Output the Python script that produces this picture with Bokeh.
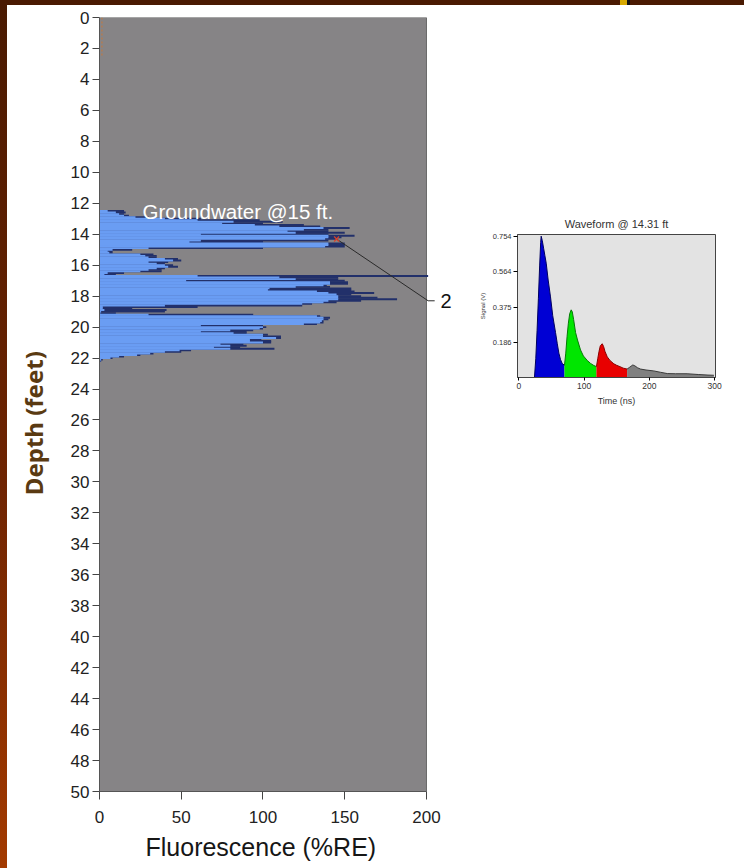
from bokeh.plotting import figure
from bokeh.layouts import row, column
from bokeh.models import Range1d, FixedTicker, Spacer, Div, Title
from bokeh.core.properties import value
from bokeh.embed import file_html
from bokeh.resources import INLINE

# ---------------- main log data (depth in ft, fluorescence in %RE) ----------------
depth_ft = [12.4, 12.5, 12.6, 12.7, 12.8, 12.9, 13.0, 13.1, 13.2, 13.3, 13.4, 13.5, 13.6, 13.7,
            13.8, 13.9, 14.0, 14.1, 14.2, 14.3, 14.4, 14.5, 14.6, 14.7, 14.8, 14.9, 15.0, 15.1,
            15.2, 15.3, 15.4, 15.5, 15.6, 15.7, 15.8, 15.9, 16.0, 16.1, 16.2, 16.3, 16.4, 16.5,
            16.6, 16.7, 16.8, 16.9, 17.0, 17.1, 17.2, 17.3, 17.4, 17.5, 17.6, 17.7, 17.8, 17.9,
            18.0, 18.1, 18.2, 18.3, 18.4, 18.5, 18.6, 18.7, 18.8, 18.9, 19.0, 19.1, 19.2, 19.3,
            19.4, 19.5, 19.6, 19.7, 19.8, 19.9, 20.0, 20.1, 20.2, 20.3, 20.4, 20.5, 20.6, 20.7,
            20.8, 20.9, 21.0, 21.1, 21.2, 21.3, 21.4, 21.5, 21.6, 21.7, 21.8, 21.9, 22.0, 22.1,
            22.2, 22.3]
fluor_outer = [0, 15, 16, 15, 18, 30, 62, 98, 112, 100, 125, 135, 153, 140,
               140, 150, 140, 156, 148, 145, 140, 100, 150, 150, 150, 100, 20, 8,
               8, 33, 35, 35, 48, 50, 42, 40, 45, 48, 40, 38, 38, 15,
               10, 201, 146, 146, 150, 152, 152, 139, 141, 154, 154, 156, 168, 154,
               160, 170, 182, 160, 145, 130, 124, 60, 20, 41, 40, 10, 94, 135,
               141, 140, 137, 137, 133, 100, 102, 100, 94, 90, 90, 103, 111, 111,
               99, 105, 105, 88, 90, 86, 107, 56, 50, 33, 25, 15, 8, 2,
               1, 0]
fluor_inner = [0, 5, 10, 12, 15, 22, 40, 60, 82, 75, 95, 110, 137, 125,
               115, 120, 62, 140, 140, 138, 62, 55, 140, 140, 138, 30, 8, 5,
               6, 25, 28, 30, 40, 45, 30, 35, 40, 42, 35, 30, 25, 5,
               3, 60, 110, 120, 53, 141, 141, 137, 120, 104, 103, 133, 140, 145,
               146, 146, 146, 140, 137, 124, 40, 2, 2, 3, 1, 0.5, 30, 133,
               137, 137, 136, 135, 125, 62, 100, 98, 80, 62, 82, 100, 100, 108,
               92, 92, 100, 74, 80, 70, 80, 49, 40, 31, 23, 12, 6.7, 1,
               0.5, 0]

x_ticks = [0, 50, 100, 150, 200]
y_ticks = list(range(0, 52, 2))
x_max, depth_max = 200, 50
x_title = "Fluorescence (%RE)"
y_title = "Depth (feet)"

marker_x, marker_depth = 145, 14.31
callout_x = [145, 201, 205]
callout_y = [14.31, 18.3, 18.3]
callout_text = "2"
gw_text = "Groundwater @15 ft."

# ---------------- waveform data (time ns, signal V) ----------------
base_t = [0, 24]
base_s = [0, 0]
blue_t = [24, 26, 28, 30, 32, 33.5, 34.3, 36, 38, 40, 42, 45, 48.6, 52, 56.3, 59, 61.4, 64, 66.5, 70]
blue_s = [0, 0.10, 0.25, 0.42, 0.60, 0.72, 0.754, 0.73, 0.69, 0.65, 0.61, 0.52, 0.43, 0.33, 0.24,
          0.18, 0.13, 0.095, 0.075, 0.065]
green_t = [70, 72, 74, 76, 78, 80.3, 82, 84, 87, 90, 94.6, 99, 104.9, 110, 115, 119]
green_s = [0.065, 0.13, 0.22, 0.29, 0.34, 0.361, 0.35, 0.31, 0.24, 0.20, 0.147, 0.115, 0.091,
           0.075, 0.064, 0.058]
red_t = [119, 121, 123, 125, 127.9, 130, 132, 135.6, 140, 145.7, 150, 155, 160, 166]
red_s = [0.058, 0.10, 0.14, 0.17, 0.18, 0.165, 0.14, 0.11, 0.09, 0.073, 0.065, 0.058, 0.05, 0.045]
gray_t = [166, 170, 174.8, 178, 182, 186.6, 195, 207, 217, 227.6, 240, 258, 275, 290, 299]
gray_s = [0.045, 0.055, 0.067, 0.062, 0.052, 0.045, 0.04, 0.035, 0.028, 0.021, 0.02, 0.02,
          0.016, 0.013, 0.012]
wave_x_ticks = [0, 100, 200, 300]
wave_y_ticks = [0.186, 0.375, 0.564, 0.754]
wave_title = "Waveform @ 14.31 ft"

FONT = value("Liberation Sans")

# ---------------- main figure ----------------
p = figure(width=453, height=863, output_backend="svg", toolbar_location=None,
           x_range=Range1d(0, 220.8), y_range=Range1d(depth_max, 0),
           min_border_left=92, min_border_top=12, min_border_bottom=77, min_border_right=0)
p.outline_line_color = None
p.grid.grid_line_color = None
p.background_fill_color = "white"

p.quad(left=0, right=x_max, bottom=depth_max, top=0, fill_color="#868486", line_color="#6a6a6a",
       line_width=1)
p.hbar(y=depth_ft, left=0, right=fluor_outer, height=0.125, fill_color="#22306a", line_color=None)
p.hbar(y=depth_ft, left=0, right=fluor_inner, height=0.125, fill_color="#6a9df3", line_color=None)
p.line(x=[1.5, 1.5], y=[0, 2.5], line_color="#c8783a", line_dash="2 2", line_width=1)

p.line(x=callout_x, y=callout_y, line_color="#2a2a2a", line_width=1)
p.scatter(x=[marker_x], y=[marker_depth], marker="x", size=7, line_color="#d8402a", line_width=1.2)
p.text(x=[208.5], y=[18.3], text=[callout_text], text_font=FONT, text_font_size="20px",
       text_color="#111111", text_baseline="middle", text_align="left")
p.text(x=[26.3], y=[12.55], text=[gw_text], text_font=FONT, text_font_size="20.5px",
       text_color="white", text_baseline="middle", text_align="left")

xa = p.xaxis[0]
xa.bounds = (0, x_max)
xa.ticker = FixedTicker(ticks=x_ticks)
xa.minor_tick_line_color = None
xa.major_tick_in = 0
xa.major_tick_out = 8
xa.major_label_standoff = 11
xa.major_label_text_font = "Liberation Sans"
xa.major_label_text_font_size = "17px"
xa.major_label_text_color = "#222222"
xa.axis_line_color = "#555555"
xa.major_tick_line_color = "#444444"

# x title centred under the 0-200 part of the axis
p.add_layout(Title(text=x_title, align="left", offset=46, text_font="Liberation Sans",
                   text_font_size="25px", text_font_style="normal", text_color="#161616",
                   standoff=10), "below")

ya = p.yaxis[0]
ya.bounds = (0, depth_max)
ya.ticker = FixedTicker(ticks=y_ticks)
ya.minor_tick_line_color = None
ya.major_tick_in = 0
ya.major_tick_out = 7
ya.major_label_standoff = 3
ya.major_label_text_font = "Liberation Sans"
ya.major_label_text_font_size = "17px"
ya.major_label_text_color = "#222222"
ya.axis_line_color = "#555555"
ya.major_tick_line_color = "#444444"
ya.axis_label = y_title + "\u00a0" * 6
ya.axis_label_text_font = "Noto Sans"
ya.axis_label_text_font_size = "24px"
ya.axis_label_text_font_style = "bold"
ya.axis_label_text_color = "#5a3a12"
ya.axis_label_standoff = 18

# ---------------- waveform inset ----------------
w = figure(width=265, height=200, output_backend="svg", toolbar_location=None,
           x_range=Range1d(-2, 301.5), y_range=Range1d(0, 0.763),
           min_border_left=57, min_border_top=26, min_border_right=10, min_border_bottom=30)
w.background_fill_color = "#e3e3e3"
w.outline_line_color = "#444444"
w.grid.grid_line_color = None
w.title.text = wave_title
w.title.align = "center"
w.title.text_font = "Liberation Sans"
w.title.text_font_size = "11px"
w.title.text_font_style = "normal"
w.title.text_color = "#333333"

w.line(x=base_t, y=base_s, line_color="#333333", line_width=1)
for tt, ss, fc, lc in [(blue_t, blue_s, "#0000d4", "#000060"),
                       (green_t, green_s, "#00e600", "#067a06"),
                       (red_t, red_s, "#e80000", "#8a0000"),
                       (gray_t, gray_s, "#808080", "#3a3a3a")]:
    w.varea(x=tt, y1=0, y2=ss, fill_color=fc)
    w.line(x=tt, y=ss, line_color=lc, line_width=1)

wx = w.xaxis[0]
wx.ticker = FixedTicker(ticks=wave_x_ticks)
wx.minor_tick_line_color = None
wx.major_tick_in = 0
wx.major_tick_out = 3
wx.major_label_standoff = 2
wx.major_label_text_font = "Liberation Sans"
wx.major_label_text_font_size = "8.5px"
wx.major_label_text_color = "#333333"
wx.axis_line_color = "#444444"
wx.axis_label = "Time (ns)"
wx.axis_label_text_font = "Liberation Sans"
wx.axis_label_text_font_size = "9px"
wx.axis_label_text_font_style = "normal"
wx.axis_label_text_color = "#333333"
wx.axis_label_standoff = 4

wy = w.yaxis[0]
wy.ticker = FixedTicker(ticks=wave_y_ticks)
wy.formatter.precision = 3
wy.minor_tick_line_color = None
wy.major_tick_in = 0
wy.major_tick_out = 4
wy.major_label_standoff = 2
wy.major_label_text_font = "Liberation Sans"
wy.major_label_text_font_size = "7.5px"
wy.major_label_text_color = "#333333"
wy.axis_line_color = "#444444"
wy.axis_label = "Signal (V)"
wy.axis_label_text_font = "Liberation Sans"
wy.axis_label_text_font_size = "6px"
wy.axis_label_text_font_style = "normal"
wy.axis_label_text_color = "#333333"
wy.axis_label_standoff = 4

# decorative slide frame
top_strip = Div(width=744, height=5, margin=0, styles={
    "background": "linear-gradient(to right, #4a1a02 620px, #d6a800 620px, #d6a800 627px, "
                  "#111111 627px, #111111 630px, #4a1a02 630px)"})
left_strip = Div(width=7, height=863, margin=0, styles={
    "background": "linear-gradient(to bottom, #4a1a02, #6e2402 55%, #a33a00)"})

layout = column(top_strip,
                row(left_strip, p, column(Spacer(width=265, height=203, margin=0), w)))

open("out.html", "w").write(file_html(layout, INLINE))
